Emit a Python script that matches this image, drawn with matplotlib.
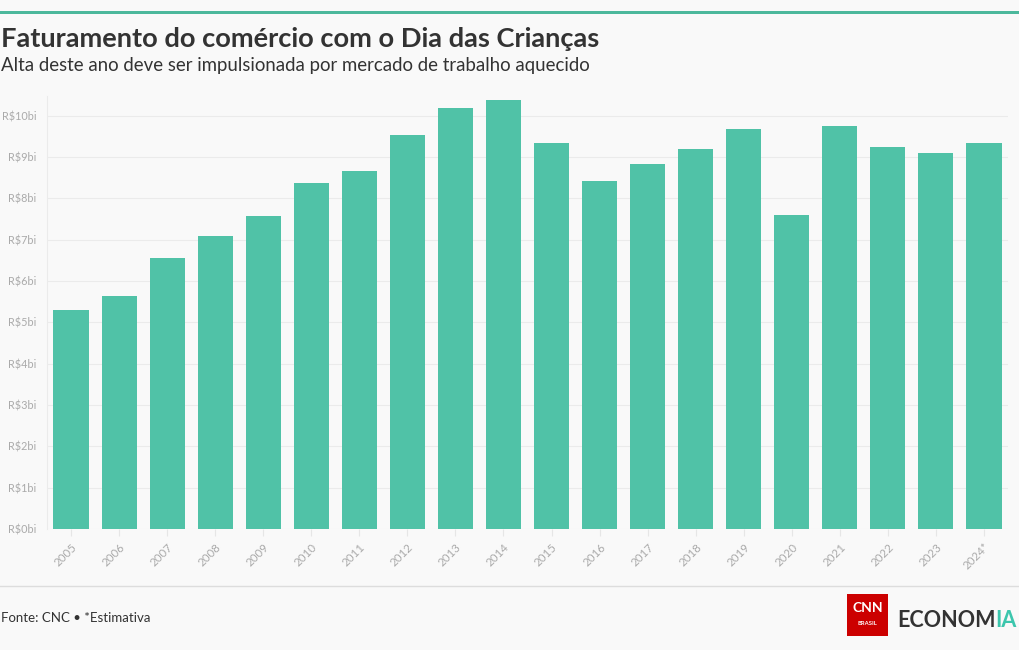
import matplotlib
matplotlib.use("Agg")
import matplotlib.pyplot as plt
from matplotlib.patches import Rectangle

years = ["2005", "2006", "2007", "2008", "2009", "2010", "2011", "2012", "2013", "2014",
         "2015", "2016", "2017", "2018", "2019", "2020", "2021", "2022", "2023", "2024*"]
revenue_bi = [5.30, 5.64, 6.56, 7.09, 7.58, 8.38, 8.67, 9.54, 10.19, 10.39,
              9.35, 8.43, 8.84, 9.20, 9.69, 7.60, 9.76, 9.25, 9.10, 9.35]
yticks = list(range(0, 11))

W, H = 1020, 650
BG = "#f9f9f9"
BAR = "#50c2a7"
TEAL = "#4cb89c"

plt.rcParams["font.family"] = ["Lato", "DejaVu Sans"]

fig = plt.figure(figsize=(W / 100, H / 100), dpi=100, facecolor=BG)


def px(x, y):
    return x / W, 1 - y / H


# top accent line
fig.add_artist(Rectangle(px(0, 14), 1, 3 / H, transform=fig.transFigure,
                         color=TEAL, lw=0))

fig.text(*px(1, 47), "Faturamento do comércio com o Dia das Crianças",
         fontsize=19.6, fontweight="bold", color="#333333", va="baseline")
fig.text(*px(1, 71), "Alta deste ano deve ser impulsionada por mercado de trabalho aquecido",
         fontsize=13.4, color="#333333", va="baseline")

left, right, top, bottom = 47, 1008, 96, 529
ax = fig.add_axes([left / W, 1 - bottom / H, (right - left) / W, (bottom - top) / H])
ax.set_facecolor(BG)

x = range(len(years))
ax.bar(x, revenue_bi, width=0.73, color=BAR, zorder=3)
ax.set_xlim(-0.5, len(years) - 0.5)
ax.set_ylim(0, 10.48)

ax.set_yticks(yticks)
ax.set_yticklabels([f"R${v}bi" for v in yticks])
ax.set_xticks(list(x))
ax.set_xticklabels(years, rotation=45, ha="right", rotation_mode="anchor")

ax.grid(axis="y", color="#ebebeb", lw=0.8, zorder=0)
for s in ("top", "right", "bottom"):
    ax.spines[s].set_visible(False)
ax.spines["left"].set_color("#ebebeb")
ax.spines["left"].set_linewidth(0.8)
ax.tick_params(axis="y", length=0, pad=7.5, labelsize=7.8, labelcolor="#aaaaaa")
ax.tick_params(axis="x", length=5, color="#e6e6e6", pad=4, labelsize=8.3,
               labelcolor="#aaaaaa")

# footer
fig.add_artist(plt.Line2D([0, 1], [1 - 586 / H] * 2, transform=fig.transFigure,
                          color="#dddddd", lw=1))
fig.text(*px(1, 622), "Fonte: CNC • *Estimativa", fontsize=9.5, color="#333333",
         va="baseline")

# logo
fig.add_artist(Rectangle(px(847, 636), 41 / W, 42 / H, transform=fig.transFigure,
                         color="#cc0000", lw=0))
fig.text(*px(867.5, 612), "CNN", fontsize=10, fontweight="bold", color="white",
         ha="center", va="baseline")
fig.text(*px(867.5, 625), "BRASIL", fontsize=4.2, fontweight="bold", color="white",
         ha="center", va="baseline")
econ = fig.text(*px(897, 627), "ECONOM", fontsize=15.5, fontweight="bold",
                color="#333333", va="baseline")
renderer = fig.canvas.get_renderer()
bb = econ.get_window_extent(renderer=renderer)
fig.text(bb.x1 / W, 1 - 627 / H, "IA", fontsize=15.5, fontweight="bold",
         color="#3cc6ad", va="baseline")

fig.savefig("out.png", dpi=100, facecolor=BG)
